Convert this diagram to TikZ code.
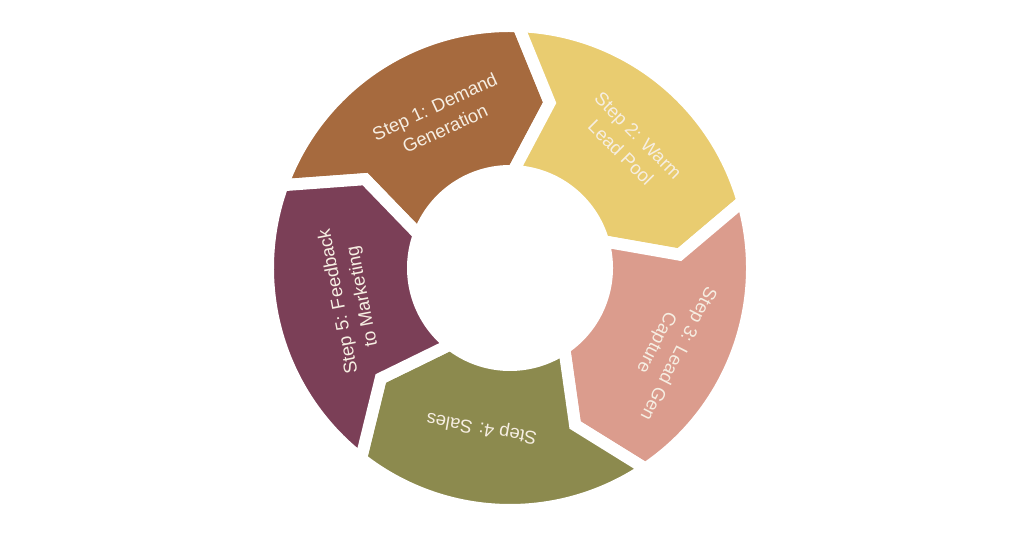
\documentclass[tikz,border=0pt]{standalone}
\usepackage{fontspec}
\setsansfont{Liberation Sans}
\usetikzlibrary{calc}

\definecolor{stepbrown}{HTML}{A66A3E}
\definecolor{stepyellow}{HTML}{E9CC70}
\definecolor{steppink}{HTML}{DB9C8D}
\definecolor{stepolive}{HTML}{8C8A4E}
\definecolor{stepplum}{HTML}{7B3F57}
\definecolor{labelcream}{HTML}{F6EEE2}

\tikzset{
  segment/.style={draw=white, line width=12pt, line join=miter},
  steplabel/.style={text=labelcream, align=center,
    font=\sffamily\fontsize{18.5}{24.5}\selectfont}
}

\begin{document}
\begin{tikzpicture}[x=1pt,y=1pt]
  \useasboundingbox (0,0) rectangle (1024,538);
  \coordinate (O) at (510,270);
  % ring of arrows, tail at \a, head at \a-72
  \foreach \a/\col in {160/stepbrown, 88/stepyellow, 16/steppink,
                       -56/stepolive, -128/stepplum}{
    \filldraw[segment, fill=\col, shift={(O)}]
      (\a:242) arc[start angle=\a, end angle=\a-72, radius=242]
      -- ({\a-83.5}:170) -- ({\a-72}:97)
      arc[start angle=\a-72, end angle=\a, radius=97]
      -- ({\a-11.5}:170) -- cycle;
  }
  % labels
  \node[steplabel, rotate=25] (s1) at ($(O)+(115:166)$) {Step 1: Demand\\Generation};
  \node[steplabel, rotate=-45] (s2) at ($(O)+(46:172)$) {Step 2: Warm\\Lead Pool};
  \node[steplabel, rotate=-117] (s3) at ($(O)+(-27:176)$) {Step 3: Lead Gen\\Capture};
  \node[steplabel, rotate=-190] (s4) at ($(O)+(-100:162)$) {Step 4: Sales};
  \node[steplabel, rotate=101] (s5) at ($(O)+(191:162)$) {Step 5: Feedback\\to Marketing};
\end{tikzpicture}
\end{document}
